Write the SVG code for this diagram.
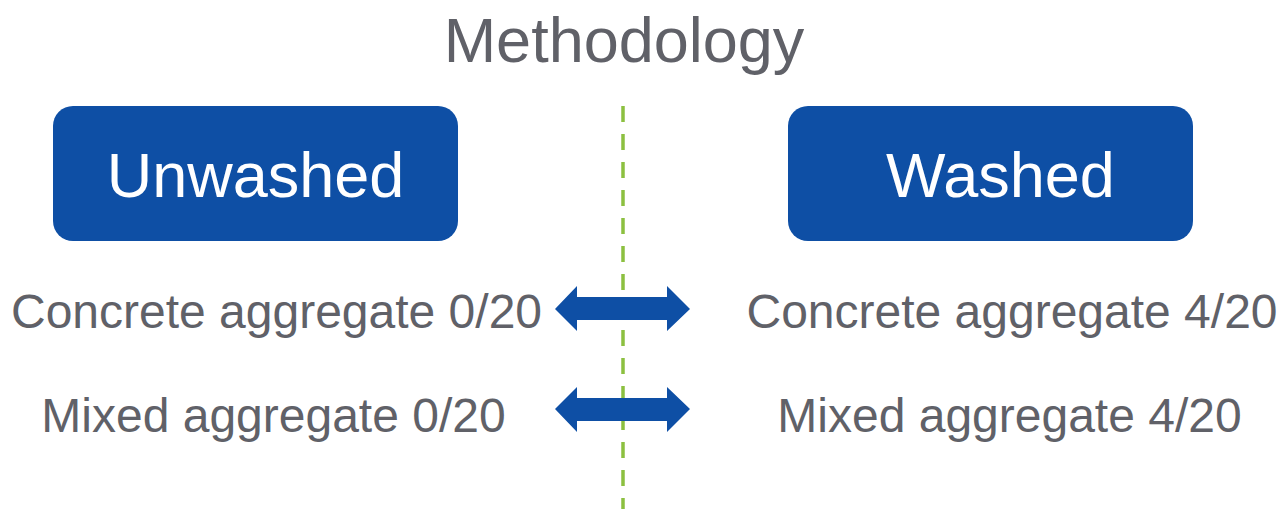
<svg xmlns="http://www.w3.org/2000/svg" width="1281" height="509" viewBox="0 0 1281 509">
<style>
.t{font-family:"Liberation Sans",Arial,sans-serif;fill:#606168;text-anchor:middle}
.h{font-family:"Liberation Sans",Arial,sans-serif;fill:#ffffff;font-size:63px;text-anchor:middle}
.box{fill:#0E4FA5}
.arr{fill:#0E4FA5}
</style>
<rect width="1281" height="509" fill="#ffffff"/>
<text class="t" x="624" y="62" font-size="63">Methodology</text>
<g id="divider">
<line x1="623" y1="106" x2="623" y2="509" stroke="#8CC040" stroke-width="3.5" stroke-dasharray="16 12"/>
</g>
<g id="unwashed">
<rect class="box" x="53" y="106" width="405" height="135" rx="20"/>
<text class="h" x="255.5" y="197">Unwashed</text>
</g>
<g id="washed">
<rect class="box" x="788" y="106" width="405" height="135" rx="20"/>
<text class="h" x="1000.5" y="197">Washed</text>
</g>
<g id="left-items">
<text class="t" x="276.5" y="328" font-size="48">Concrete aggregate 0/20</text>
<text class="t" x="273.5" y="432" font-size="48">Mixed aggregate 0/20</text>
</g>
<g id="right-items">
<text class="t" x="1012" y="328" font-size="48">Concrete aggregate 4/20</text>
<text class="t" x="1009.5" y="432" font-size="48">Mixed aggregate 4/20</text>
</g>
<g id="connectors">
<polygon class="arr" points="555,309 577,286 577,297 667,297 667,286 690,309 667,331 667,320 577,320 577,331"/>
<polygon class="arr" points="555,409 577,387 577,398 667,398 667,387 690,409 667,432 667,421 577,421 577,432"/>
</g>
</svg>
